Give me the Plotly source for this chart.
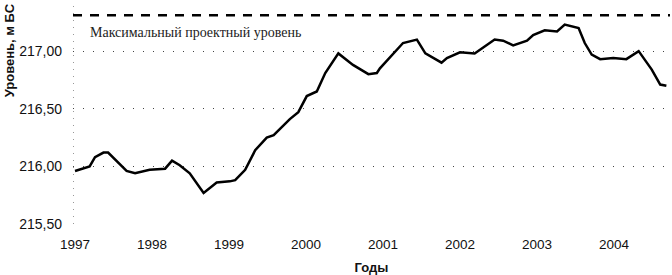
import plotly.graph_objects as go

years = [1997.00, 1997.19, 1997.26, 1997.37, 1997.43, 1997.67, 1997.78, 1997.97,
         1998.17, 1998.26, 1998.36, 1998.49, 1998.67, 1998.84, 1999.01, 1999.08,
         1999.21, 1999.34, 1999.49, 1999.58, 1999.79, 1999.90, 2000.01, 2000.14,
         2000.25, 2000.42, 2000.61, 2000.81, 2000.92, 2000.96, 2001.26, 2001.44,
         2001.55, 2001.63, 2001.76, 2001.83, 2002.00, 2002.19, 2002.30, 2002.45,
         2002.56, 2002.69, 2002.87, 2002.95, 2003.10, 2003.26, 2003.36, 2003.54,
         2003.62, 2003.71, 2003.82, 2003.99, 2004.16, 2004.32, 2004.49, 2004.60,
         2004.68]
levels = [215.96, 216.00, 216.08, 216.12, 216.12, 215.96, 215.94, 215.97,
          215.98, 216.05, 216.01, 215.94, 215.77, 215.86, 215.87, 215.88,
          215.97, 216.14, 216.25, 216.27, 216.41, 216.47, 216.61, 216.65,
          216.81, 216.98, 216.88, 216.80, 216.81, 216.85, 217.07, 217.10,
          216.98, 216.95, 216.90, 216.94, 216.99, 216.98, 217.03, 217.10,
          217.09, 217.05, 217.09, 217.14, 217.18, 217.17, 217.23, 217.20,
          217.07, 216.97, 216.93, 216.94, 216.93, 217.00, 216.84, 216.71,
          216.70]

max_level = 217.31
max_label = "Максимальный проектный уровень"

x_ticks = [1997, 1998, 1999, 2000, 2001, 2002, 2003, 2004]
x_tick_text = ["1997", "1998", "1999", "2000", "2001", "2002", "2003", "2004"]
y_ticks = [215.5, 216.0, 216.5, 217.0]
y_tick_text = ["215,50", "216,00", "216,50", "217,00"]

x_range = [1996.974, 2004.727]
y_range = [215.5, 217.426]

fig = go.Figure()
fig.add_trace(go.Scatter(x=years, y=levels, mode="lines",
                         line=dict(color="black", width=2.5), showlegend=False,
                         hoverinfo="skip"))
fig.add_trace(go.Scatter(x=x_range, y=[max_level, max_level], mode="lines",
                         line=dict(color="black", width=2.5, dash="9px,8px"),
                         showlegend=False, hoverinfo="skip"))

fig.add_shape(type="line", xref="x", yref="paper", x0=x_range[0], x1=x_range[0],
              y0=0, y1=1, line=dict(color="#333", width=1, dash="1px,6px"))

fig.add_annotation(x=1997.17, y=217.165, xref="x", yref="y", text=max_label,
                   showarrow=False, xanchor="left", yanchor="middle",
                   font=dict(family="Liberation Serif", size=14, color="#222"))

fig.add_annotation(x=-(73 - 9) / 597, y=(275 - 48 - 51) / 225, xref="paper", yref="paper",
                   text="<b>Уровень, м БС</b>",
                   showarrow=False, textangle=-90, xanchor="center", yanchor="middle",
                   font=dict(family="Liberation Sans", size=13, color="#111"))

fig.update_layout(
    width=672, height=275,
    margin=dict(l=73, r=2, t=2, b=48),
    paper_bgcolor="white", plot_bgcolor="white",
    font=dict(family="Liberation Sans", color="#111"),
    xaxis=dict(range=x_range, tickvals=x_ticks, ticktext=x_tick_text,
               showgrid=False, zeroline=False, showline=False, ticks="",
               tickfont=dict(size=13.5), ticklabelstandoff=10,
               title=dict(text="<b>Годы</b>", font=dict(size=13), standoff=12)),
    yaxis=dict(range=y_range, tickvals=y_ticks, ticktext=y_tick_text,
               showgrid=True, gridcolor="#444", gridwidth=1, griddash="1px,9px",
               zeroline=False, showline=False, ticks="",
               tickfont=dict(size=14), ticklabelstandoff=10),
)

fig.write_html("out.html", config={"displayModeBar": False},
               post_script="document.body.style.margin='0';")
